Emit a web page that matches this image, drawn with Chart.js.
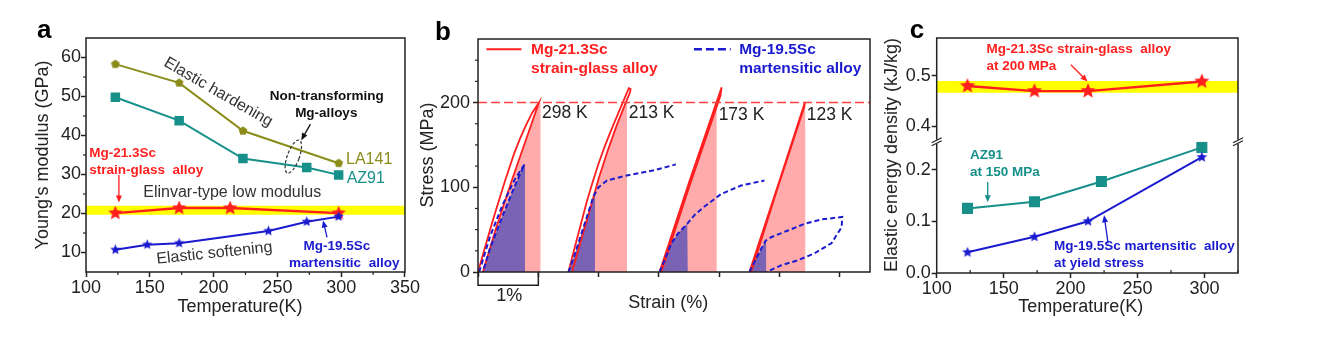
<!DOCTYPE html>
<html>
<head>
<meta charset="utf-8">
<script src="https://cdn.jsdelivr.net/npm/chart.js@4.4.0/dist/chart.umd.min.js"></script>
<style>
  html, body { margin: 0; padding: 0; background: #fff; }
  #fig { position: relative; width: 1328px; height: 345px; overflow: hidden; }
  canvas { position: absolute; top: 0; }
</style>
</head>
<body>
<div id="fig">
  <canvas id="chartA" width="420" height="345" style="left:0px"></canvas>
  <canvas id="chartB" width="475" height="345" style="left:405px"></canvas>
  <canvas id="chartC" width="458" height="345" style="left:870px"></canvas>
</div>
<script>
// ---- Panel a: Young's modulus vs temperature
const tempLA141 = [123, 173, 223, 298];
const modLA141 = [58.3, 53.5, 41.2, 32.9];
const tempAZ91 = [123, 173, 223, 273, 298];
const modAZ91 = [49.8, 43.8, 34.1, 31.8, 29.9];
const tempGlassA = [123, 173, 213, 298];
const modGlass = [20.1, 21.4, 21.4, 20.1];
const tempMartA = [123, 148, 173, 243, 273, 298];
const modMart = [10.7, 12.0, 12.4, 15.5, 17.9, 19.2];
const elinvarBand = [19.7, 22];          // low modulus band (GPa)
const tempRangeA = [100, 350];
const tempTicksA = [100, 150, 200, 250, 300, 350];
const modulusTicks = [10, 20, 30, 40, 50, 60];

// ---- Panel b: stress-strain curves (strain %, stress MPa)
const glass298 = [[0,0],[0.1,25],[0.25,62],[0.45,108],[0.6,140],[0.7,158],[0.8,174],[0.9,188],[1.01,200],[0.8,157],[0.56,108],[0.3,52],[0.08,0]];
const glass213 = [[1.5,0],[1.6,28],[1.7,55],[1.8,82],[1.9,106],[2.0,128],[2.1,148],[2.2,166],[2.3,183],[2.4,200],[2.5,217],[2.53,216],[2.52,212],[2.45,200],[2.3,173],[2.15,143],[2.0,110],[1.85,72],[1.7,35],[1.56,0]];
const glass173 = [[3.01,0],[3.5,106],[4.04,218],[4.02,208],[3.5,100],[3.04,0]];
const glass123 = [[4.5,0],[5.0,108],[5.42,200],[5.41,195],[4.95,95],[4.53,0]];
const mart298 = [[0.02,0],[0.2,42],[0.4,78],[0.6,108],[0.77,127],[0.6,100],[0.4,65],[0.2,28],[0.08,0]];
const mart213 = [[1.5,0],[1.6,20],[1.7,42],[1.8,64],[1.92,90],[2.0,100],[2.14,108],[2.47,114],[2.92,120],[3.28,127]];
const mart173 = [[3.01,0],[3.1,15],[3.2,33],[3.31,45],[3.47,57],[3.6,68],[3.75,77],[4.03,92],[4.36,102],[4.75,108]];
const mart123 = [[4.5,0],[4.6,14],[4.7,28],[4.77,37],[4.86,41],[5.14,49],[5.42,57],[5.69,62],[6.04,65],[6.03,53],[5.86,34],[5.58,22],[5.31,14],[5.03,8],[4.78,0]];
// stored elastic energy regions
const glassArea298 = [[0.08,0],[0.3,52],[0.56,108],[0.8,157],[1.01,200],[1.04,200],[1.04,0]];
const glassArea213 = [[1.56,0],[1.7,35],[1.85,72],[2.0,110],[2.15,143],[2.3,173],[2.45,200],[2.47,200],[2.47,0]];
const glassArea173 = [[3.04,0],[3.5,100],[3.96,195],[3.96,0]];
const glassArea123 = [[4.53,0],[4.95,95],[5.42,200],[5.43,200],[5.43,0]];
const martArea298 = [[0.08,0],[0.2,28],[0.4,65],[0.6,100],[0.77,127],[0.78,127],[0.78,0]];
const martArea213 = [[1.5,0],[1.6,20],[1.7,42],[1.8,64],[1.92,90],[1.94,92],[1.94,0]];
const martArea173 = [[3.01,0],[3.1,15],[3.2,33],[3.31,45],[3.47,57],[3.48,57],[3.48,0]];
const martArea123 = [[4.5,0],[4.6,14],[4.7,28],[4.77,37],[4.78,37],[4.78,0]];
const stressLimit = [[0,200],[6.5,200]];
const strainTicks = [0, 1, 2, 3, 4, 5, 6];
const stressTicks = [0, 100, 200];

// ---- Panel c: elastic energy density vs temperature
const tempGlassC = [123, 173, 213, 298];
const energyGlass = [0.48, 0.47, 0.47, 0.489];
const tempAZ91C = [123, 173, 223, 298];
const energyAZ91 = [0.125, 0.138, 0.177, 0.243];
const tempMartC = [123, 173, 213, 298];
const energyMart = [0.04, 0.07, 0.10, 0.224];
const energyBand = [0.467, 0.49];
const tempRangeC = [100, 325];
const tempTicksC = [100, 150, 200, 250, 300];
const energyTicksLow = [0, 0.1, 0.2];
const energyTicksHigh = [0.4, 0.5];

// ---- styles
const FONT = '"Liberation Sans", Arial, Helvetica, sans-serif';
const INK = '#222';
const OLIVE = '#8C8C1A';
const TEAL = '#17908A';
const RED = '#FF1F1F';
const BLUE = '#1A1ACF';
const YELLOW = '#FFFF00';
const PINK = '#FFABAB';
const PURPLE = '#7A63B4';
const NOTE = '16px ' + FONT;
const BOLD = 'bold 13.5px ' + FONT;
const LEG = 'bold 15.5px ' + FONT;
const BIG = '18px ' + FONT;
const TEMP = '17.5px ' + FONT;
const LETTER = 'bold 26px ' + FONT;

Chart.defaults.font.family = FONT;
Chart.defaults.color = INK;
Chart.defaults.animation = false;
Chart.defaults.plugins.legend.display = false;
Chart.defaults.plugins.tooltip.enabled = false;

const pts = (xs, ys) => xs.map((x, i) => ({ x: x, y: ys[i] }));
const pairs = arr => arr.map(p => ({ x: p[0], y: p[1] }));

// filled marker shapes drawn once on small canvases
function shapeCanvas(r, color, points, inner) {
  const c = document.createElement('canvas');
  const s = Math.ceil(r * 2 + 2);
  c.width = c.height = s;
  const g = c.getContext('2d');
  g.fillStyle = color;
  g.beginPath();
  const n = inner ? points * 2 : points;
  for (let i = 0; i < n; i++) {
    const rad = inner && i % 2 === 1 ? r * inner : r;
    const a = -Math.PI / 2 + i * 2 * Math.PI / n;
    g.lineTo(s / 2 + rad * Math.cos(a), s / 2 + rad * Math.sin(a));
  }
  g.closePath();
  g.fill();
  return c;
}

function xAxis(range, values, height, labelFn) {
  return {
    type: 'linear', position: 'bottom', min: range[0], max: range[1],
    border: { display: false },
    grid: { drawOnChartArea: false, tickLength: 5, tickWidth: 1.5, tickColor: INK },
    ticks: { font: { size: 18 }, color: INK, padding: 0, autoSkip: false, maxRotation: 0,
             callback: labelFn || (v => v) },
    afterBuildTicks: s => { s.ticks = values.map(v => ({ value: v })); },
    afterFit: s => { s.height = height; }
  };
}

function yAxis(min, max, values, width, pad, labelFn) {
  return {
    type: 'linear', position: 'left', min: min, max: max,
    border: { display: false },
    grid: { drawOnChartArea: false, tickLength: 5, tickWidth: 1.5, tickColor: INK },
    ticks: { font: { size: 18 }, color: INK, padding: pad, autoSkip: false,
             callback: labelFn || (v => v) },
    afterBuildTicks: s => { s.ticks = values.map(v => ({ value: v })); },
    afterFit: s => { s.width = width; }
  };
}

function arrow(ctx, x1, y1, x2, y2, color) {
  const ang = Math.atan2(y2 - y1, x2 - x1);
  const L = 7, W = 3;
  ctx.strokeStyle = color;
  ctx.fillStyle = color;
  ctx.lineWidth = 1.3;
  ctx.setLineDash([]);
  ctx.beginPath();
  ctx.moveTo(x1, y1);
  ctx.lineTo(x2 - L * 0.8 * Math.cos(ang), y2 - L * 0.8 * Math.sin(ang));
  ctx.stroke();
  ctx.beginPath();
  ctx.moveTo(x2, y2);
  ctx.lineTo(x2 - L * Math.cos(ang) + W * Math.sin(ang), y2 - L * Math.sin(ang) - W * Math.cos(ang));
  ctx.lineTo(x2 - L * Math.cos(ang) - W * Math.sin(ang), y2 - L * Math.sin(ang) + W * Math.cos(ang));
  ctx.closePath();
  ctx.fill();
}

// frame, minor ticks, axis break, titles and annotations
const decor = {
  id: 'decor',
  afterDraw(chart, args, opts) {
    const ctx = chart.ctx;
    const area = chart.chartArea;
    const X = v => chart.scales.x.getPixelForValue(v);
    const Y = (v, id) => chart.scales[id || 'y'].getPixelForValue(v);
    ctx.save();
    ctx.strokeStyle = INK;
    ctx.lineWidth = 1.5;
    ctx.strokeRect(area.left, area.top, area.right - area.left, area.bottom - area.top);

    ctx.lineWidth = 1.2;
    (opts.minor || []).forEach(m => {
      const sc = chart.scales[m.axis];
      const len = m.inside ? -3 : 3;
      m.values.forEach(v => {
        const p = sc.getPixelForValue(v);
        ctx.beginPath();
        if (sc.isHorizontal()) { ctx.moveTo(p, area.bottom); ctx.lineTo(p, area.bottom + len); }
        else { ctx.moveTo(area.left - len, p); ctx.lineTo(area.left, p); }
        ctx.stroke();
      });
    });

    if (opts.breakAxis) {
      const yb = chart.scales[opts.breakAxis].bottom;
      [area.left, area.right].forEach(xb => {
        ctx.fillStyle = '#fff';
        ctx.fillRect(xb - 2, yb - 2, 4, 4);
        ctx.strokeStyle = INK;
        ctx.lineWidth = 1.2;
        ctx.beginPath();
        ctx.moveTo(xb - 5, yb + 1); ctx.lineTo(xb + 5, yb - 4);
        ctx.moveTo(xb - 5, yb + 4); ctx.lineTo(xb + 5, yb - 1);
        ctx.stroke();
      });
    }

    (opts.items || []).forEach(it => {
      ctx.save();
      if (it.type === 'text' || it.type === 'label') {
        const px = it.type === 'text' ? X(it.x) : area.left + it.dx;
        const py = it.type === 'text' ? Y(it.y, it.yAxis) : area.top + it.dy;
        ctx.translate(px, py);
        ctx.rotate((it.rotate || 0) * Math.PI / 180);
        ctx.font = it.font || NOTE;
        ctx.fillStyle = it.color || INK;
        ctx.textAlign = it.align || 'left';
        ctx.textBaseline = it.baseline || 'middle';
        ctx.fillText(it.text, 0, 0);
      } else if (it.type === 'arrow') {
        arrow(ctx, X(it.x1), Y(it.y1, it.yAxis), X(it.x2), Y(it.y2, it.yAxis), it.color);
      } else if (it.type === 'path') {
        ctx.strokeStyle = it.color;
        ctx.lineWidth = it.width || 1.5;
        ctx.setLineDash(it.dash || []);
        ctx.beginPath();
        it.pts.forEach((p, i) => {
          const px = X(p[0]), py = Y(p[1]);
          if (i === 0) ctx.moveTo(px, py); else ctx.lineTo(px, py);
        });
        ctx.stroke();
      } else if (it.type === 'ellipse') {
        ctx.strokeStyle = it.color;
        ctx.lineWidth = 1.2;
        ctx.setLineDash([3, 2]);
        ctx.beginPath();
        ctx.ellipse(X(it.x), Y(it.y), it.rx, it.ry, it.rot * Math.PI / 180, 0, 2 * Math.PI);
        ctx.stroke();
      }
      ctx.restore();
    });
    ctx.restore();
  }
};
Chart.register(decor);

function curve(data, color, dash, order) {
  return { data: pairs(data), borderColor: color, borderWidth: dash ? 2 : 1.8,
           borderDash: dash || [], pointRadius: 0, fill: false, order: order };
}
function area(data, color, order) {
  return { data: pairs(data), borderColor: 'rgba(0,0,0,0)', borderWidth: 0,
           backgroundColor: color, pointRadius: 0, fill: 'origin', order: order };
}
function markers(xs, ys, color, style, order, yAxis) {
  return { data: pts(xs, ys), borderColor: color, backgroundColor: color, borderWidth: 2,
           pointStyle: style, pointRadius: 5, fill: false, order: order, yAxisID: yAxis || 'y' };
}

// ---- Panel a
new Chart(document.getElementById('chartA'), {
  type: 'line',
  data: {
    datasets: [
      { data: pts(tempRangeA, [elinvarBand[1], elinvarBand[1]]), borderColor: 'rgba(0,0,0,0)', borderWidth: 0,
        backgroundColor: YELLOW, pointRadius: 0, fill: { value: elinvarBand[0] }, order: 10 },
      markers(tempLA141, modLA141, OLIVE, shapeCanvas(4.6, OLIVE, 5), 4),
      Object.assign(markers(tempAZ91, modAZ91, TEAL, 'rect', 4), { pointRadius: 5.3 }),
      Object.assign(markers(tempGlassA, modGlass, RED, shapeCanvas(7.6, RED, 5, 0.45), 2), { borderWidth: 2.4 }),
      markers(tempMartA, modMart, BLUE, shapeCanvas(5.4, BLUE, 5, 0.45), 1)
    ]
  },
  options: {
    responsive: false,
    layout: { padding: { top: 38, right: 11, bottom: 0, left: 0 } },
    scales: {
      x: xAxis(tempRangeA, tempTicksA, 73),
      y: yAxis(5, 65, modulusTicks, 86, 0)
    },
    plugins: {
      decor: {
        minor: [{ axis: 'x', values: [125, 175, 225, 275, 325] },
                { axis: 'y', values: [15, 25, 35, 45, 55] }],
        items: [
          { type: 'label', text: 'a', dx: -49, dy: 0, font: LETTER, color: '#000', baseline: 'alphabetic' },
          { type: 'label', text: "Young's modulus (GPa)", dx: -42.5, dy: 117, rotate: -90, align: 'center', font: BIG },
          { type: 'label', text: 'Temperature(K)', dx: 154, dy: 269, align: 'center', font: BIG },
          { type: 'text', x: 203.7, y: 51.1, text: 'Elastic hardening', rotate: 30, align: 'center', color: '#333' },
          { type: 'text', x: 288.6, y: 50.1, text: 'Non-transforming', align: 'center', font: BOLD, color: '#111' },
          { type: 'text', x: 288.3, y: 45.8, text: 'Mg-alloys', align: 'center', font: BOLD, color: '#111' },
          { type: 'arrow', x1: 275.9, y1: 42.9, x2: 268.7, y2: 38.8, color: '#111' },
          { type: 'ellipse', x: 262.5, y: 34.6, rx: 6, ry: 17.5, rot: 20, color: '#333' },
          { type: 'text', x: 303.8, y: 33.7, text: 'LA141', color: OLIVE },
          { type: 'text', x: 304.3, y: 29.0, text: 'AZ91', color: TEAL },
          { type: 'text', x: 102.6, y: 35.4, text: 'Mg-21.3Sc', font: BOLD, color: RED },
          { type: 'text', x: 102.6, y: 31.2, text: 'strain-glass  alloy', font: BOLD, color: RED },
          { type: 'arrow', x1: 125.8, y1: 29.9, x2: 125.8, y2: 22.8, color: RED },
          { type: 'text', x: 144.9, y: 25.3, text: 'Elinvar-type low modulus', color: '#333' },
          { type: 'text', x: 200.6, y: 9.8, text: 'Elastic softening', rotate: -6, align: 'center', color: '#333' },
          { type: 'text', x: 296.6, y: 11.7, text: 'Mg-19.5Sc', align: 'center', font: BOLD, color: BLUE },
          { type: 'text', x: 302.4, y: 7.3, text: 'martensitic  alloy', align: 'center', font: BOLD, color: BLUE },
          { type: 'arrow', x1: 288.9, y1: 13.9, x2: 285.8, y2: 18.2, color: BLUE }
        ]
      }
    }
  }
});

// ---- Panel b
new Chart(document.getElementById('chartB'), {
  type: 'line',
  data: {
    datasets: [
      Object.assign(curve(stressLimit, '#FF4040', [9, 4], 0), { borderWidth: 1.5 }),
      curve(mart298, BLUE, [5, 3], 1),
      curve(mart213, BLUE, [5, 3], 1),
      curve(mart173, BLUE, [5, 3], 1),
      curve(mart123, BLUE, [5, 3], 1),
      curve(glass298, RED, null, 2),
      curve(glass213, RED, null, 2),
      curve(glass173, RED, null, 2),
      curve(glass123, RED, null, 2),
      area(martArea298, PURPLE, 3),
      area(martArea213, PURPLE, 3),
      area(martArea173, PURPLE, 3),
      area(martArea123, PURPLE, 3),
      area(glassArea298, PINK, 4),
      area(glassArea213, PINK, 4),
      area(glassArea173, PINK, 4),
      area(glassArea123, PINK, 4)
    ]
  },
  options: {
    responsive: false,
    layout: { padding: { top: 39, right: 10, bottom: 0, left: 0 } },
    scales: {
      x: xAxis([0, 6.5], strainTicks, 73, () => ''),
      y: yAxis(0, 275, stressTicks, 73, 3)
    },
    plugins: {
      decor: {
        minor: [{ axis: 'y', values: [25, 50, 75, 125, 150, 175, 225, 250] }],
        items: [
          { type: 'label', text: 'b', dx: -43, dy: 1, font: LETTER, color: '#000', baseline: 'alphabetic' },
          { type: 'label', text: 'Stress (MPa)', dx: -50, dy: 116, rotate: -90, align: 'center', font: BIG },
          { type: 'label', text: 'Strain (%)', dx: 190.3, dy: 264.3, align: 'center', font: BIG },
          { type: 'path', pts: [[0.14, 263], [0.72, 263]], color: RED, width: 2 },
          { type: 'text', x: 0.88, y: 262.6, text: 'Mg-21.3Sc', font: LEG, color: RED },
          { type: 'text', x: 0.88, y: 240.1, text: 'strain-glass alloy', font: LEG, color: RED },
          { type: 'path', pts: [[3.58, 263], [4.19, 263]], color: BLUE, width: 2.5, dash: [8, 4] },
          { type: 'text', x: 4.33, y: 262.6, text: 'Mg-19.5Sc', font: LEG, color: BLUE },
          { type: 'text', x: 4.33, y: 240.1, text: 'martensitic alloy', font: LEG, color: BLUE },
          { type: 'text', x: 1.06, y: 187, text: '298 K', font: TEMP },
          { type: 'text', x: 2.5, y: 187, text: '213 K', font: TEMP },
          { type: 'text', x: 3.99, y: 185, text: '173 K', font: TEMP },
          { type: 'text', x: 5.45, y: 185, text: '123 K', font: TEMP },
          { type: 'path', pts: [[0, 0], [0, -15.7], [1, -15.7], [1, 0]], color: INK, width: 1.5 },
          { type: 'text', x: 0.52, y: -28.7, text: '1%', align: 'center', font: BIG }
        ]
      }
    }
  }
});

// ---- Panel c (broken y axis: two stacked scales)
const oneDecimal = v => Number(v).toFixed(1);
const yLow = Object.assign(yAxis(0, 0.254, energyTicksLow, 66.7, 1, oneDecimal), { stack: 'energy', stackWeight: 131.3 });
const yHigh = Object.assign(yAxis(0.37, 0.575, energyTicksHigh, 66.7, 1, oneDecimal), { stack: 'energy', stackWeight: 103.7 });
new Chart(document.getElementById('chartC'), {
  type: 'line',
  data: {
    datasets: [
      { data: pts(tempRangeC, [energyBand[1], energyBand[1]]), borderColor: 'rgba(0,0,0,0)', borderWidth: 0,
        backgroundColor: YELLOW, pointRadius: 0, fill: { value: energyBand[0] }, order: 10, yAxisID: 'y2' },
      Object.assign(markers(tempGlassC, energyGlass, RED, shapeCanvas(8, RED, 5, 0.45), 2, 'y2'), { borderWidth: 2.4 }),
      Object.assign(markers(tempAZ91C, energyAZ91, TEAL, 'rect', 3), { pointRadius: 6.4 }),
      markers(tempMartC, energyMart, BLUE, shapeCanvas(5.6, BLUE, 5, 0.45), 1)
    ]
  },
  options: {
    responsive: false,
    layout: { padding: { top: 38, right: 90, bottom: 0, left: 0 } },
    scales: {
      x: xAxis(tempRangeC, tempTicksC, 72),
      y: yLow,
      y2: yHigh
    },
    plugins: {
      decor: {
        breakAxis: 'y2',
        minor: [{ axis: 'x', values: [125, 175, 225, 275, 325], inside: true }],
        items: [
          { type: 'label', text: 'c', dx: -27, dy: 0, font: LETTER, color: '#000', baseline: 'alphabetic' },
          { type: 'label', text: 'Elastic energy density (kJ/kg)', dx: -45, dy: 117, rotate: -90, align: 'center', font: BIG },
          { type: 'label', text: 'Temperature(K)', dx: 144, dy: 268.7, align: 'center', font: BIG },
          { type: 'text', x: 137.2, y: 0.553, yAxis: 'y2', text: 'Mg-21.3Sc strain-glass  alloy', font: BOLD, color: RED },
          { type: 'text', x: 137.2, y: 0.52, yAxis: 'y2', text: 'at 200 MPa', font: BOLD, color: RED },
          { type: 'arrow', x1: 200.2, y1: 0.522, x2: 212.6, y2: 0.489, yAxis: 'y2', color: RED },
          { type: 'text', x: 124.9, y: 0.228, text: 'AZ91', font: BOLD, color: TEAL },
          { type: 'text', x: 124.9, y: 0.195, text: 'at 150 MPa', font: BOLD, color: TEAL },
          { type: 'arrow', x1: 138.1, y1: 0.176, x2: 138.1, y2: 0.137, color: TEAL },
          { type: 'text', x: 187.6, y: 0.0516, text: 'Mg-19.5Sc martensitic  alloy', font: BOLD, color: BLUE },
          { type: 'text', x: 187.6, y: 0.019, text: 'at yield stress', font: BOLD, color: BLUE },
          { type: 'arrow', x1: 228, y1: 0.0574, x2: 225, y2: 0.1116, color: BLUE }
        ]
      }
    }
  }
});
</script>
</body>
</html>
